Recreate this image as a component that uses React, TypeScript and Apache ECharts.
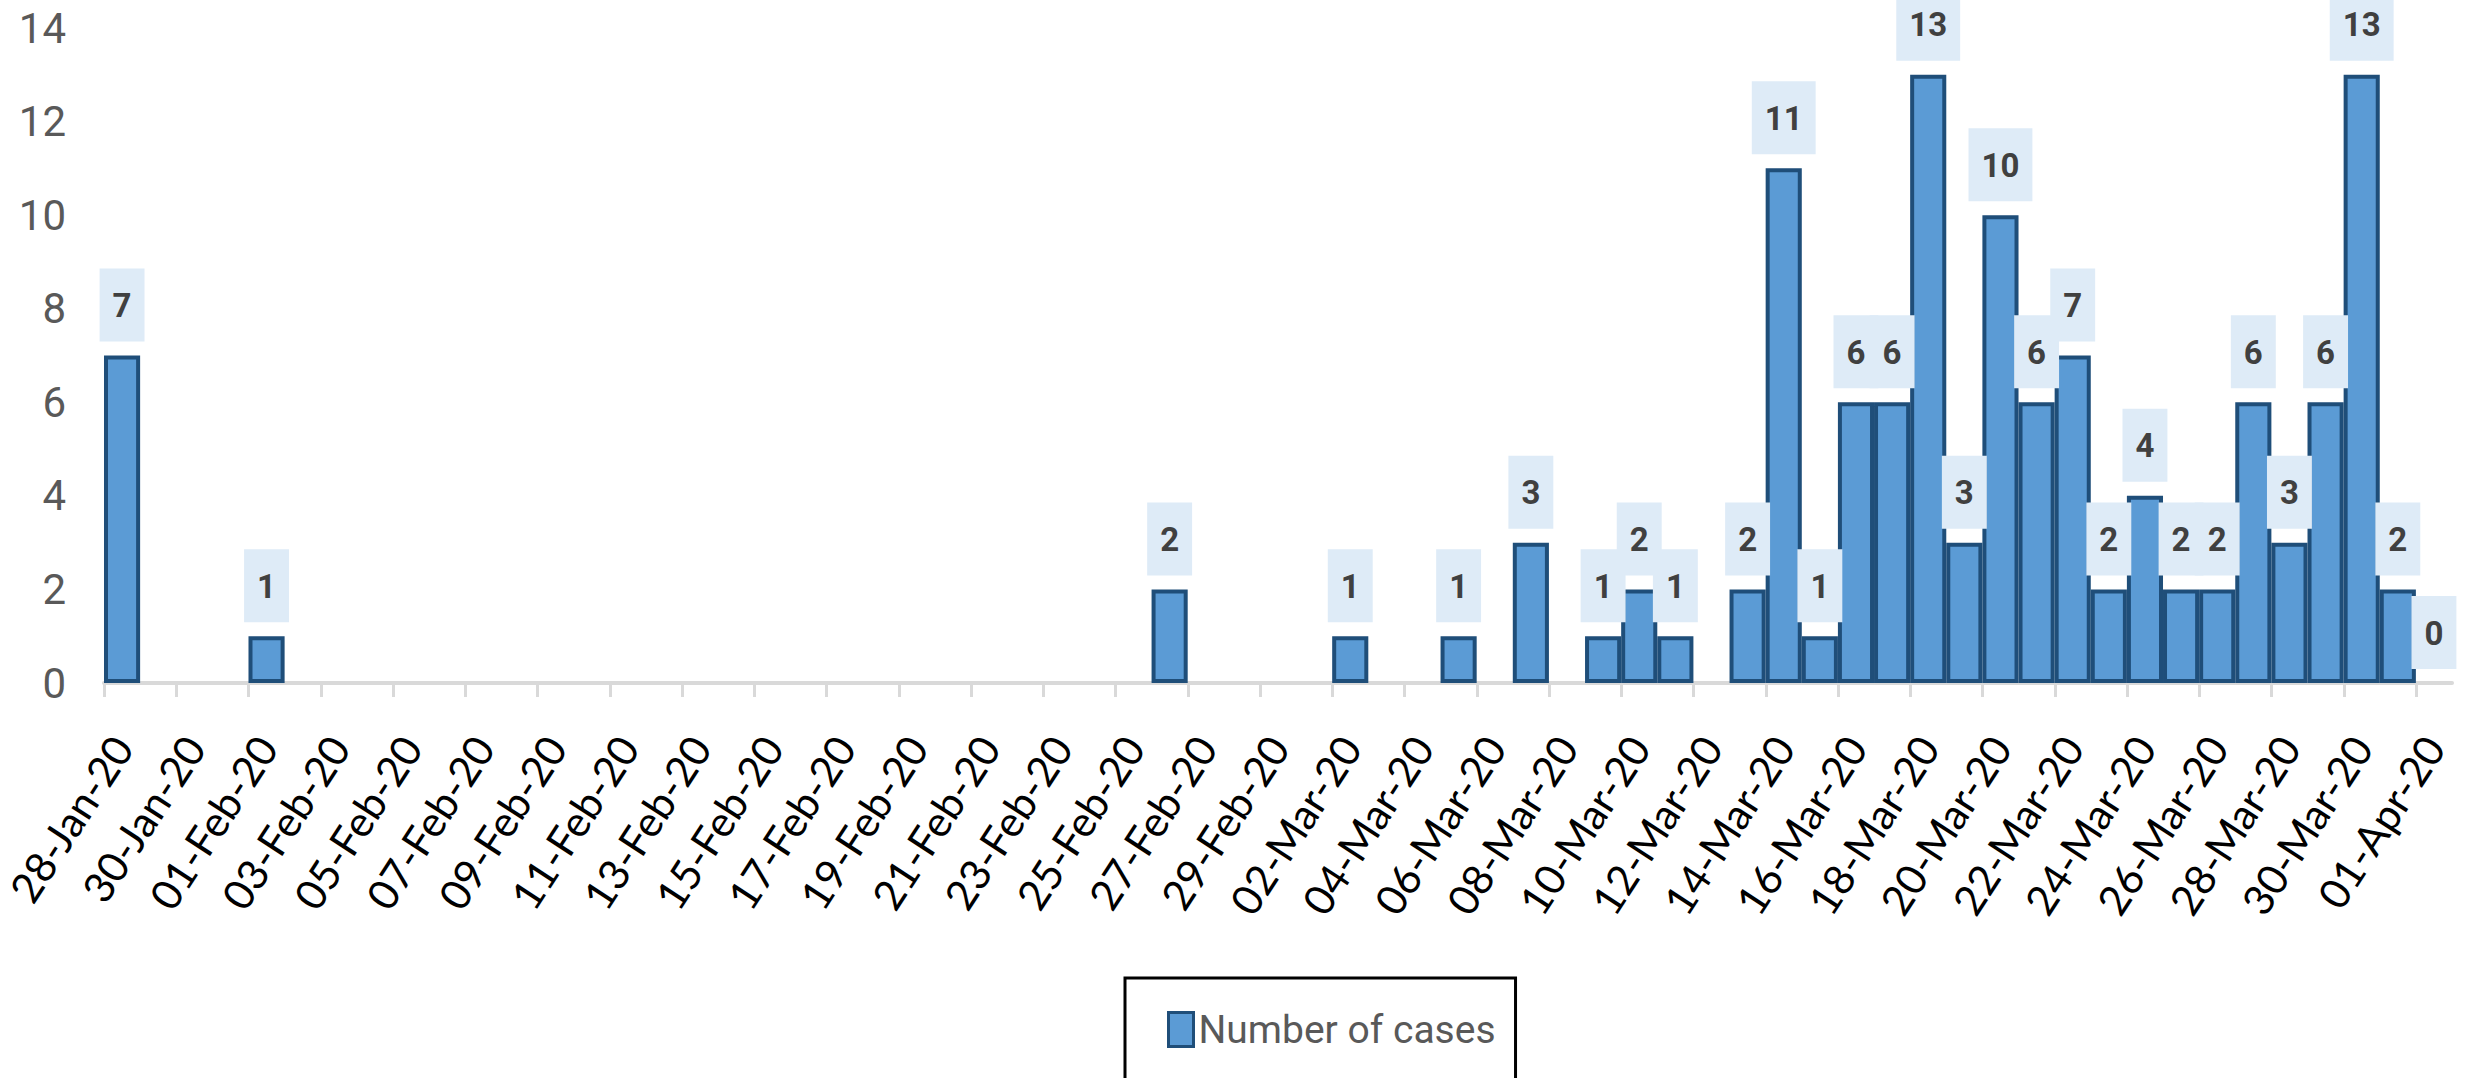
import React, { useEffect, useRef } from 'react';
import * as echarts from 'echarts';

// Daily categories (28-Jan-20 .. 01-Apr-20)
const dateLabels: string[] = [
  '28-Jan-20', '29-Jan-20', '30-Jan-20', '31-Jan-20',
  '01-Feb-20', '02-Feb-20', '03-Feb-20', '04-Feb-20', '05-Feb-20', '06-Feb-20', '07-Feb-20',
  '08-Feb-20', '09-Feb-20', '10-Feb-20', '11-Feb-20', '12-Feb-20', '13-Feb-20', '14-Feb-20',
  '15-Feb-20', '16-Feb-20', '17-Feb-20', '18-Feb-20', '19-Feb-20', '20-Feb-20', '21-Feb-20',
  '22-Feb-20', '23-Feb-20', '24-Feb-20', '25-Feb-20', '26-Feb-20', '27-Feb-20', '28-Feb-20',
  '29-Feb-20',
  '01-Mar-20', '02-Mar-20', '03-Mar-20', '04-Mar-20', '05-Mar-20', '06-Mar-20', '07-Mar-20',
  '08-Mar-20', '09-Mar-20', '10-Mar-20', '11-Mar-20', '12-Mar-20', '13-Mar-20', '14-Mar-20',
  '15-Mar-20', '16-Mar-20', '17-Mar-20', '18-Mar-20', '19-Mar-20', '20-Mar-20', '21-Mar-20',
  '22-Mar-20', '23-Mar-20', '24-Mar-20', '25-Mar-20', '26-Mar-20', '27-Mar-20', '28-Mar-20',
  '29-Mar-20', '30-Mar-20', '31-Mar-20',
  '01-Apr-20',
];

// Number of cases per day (null = no bar / no label)
const cases: (number | null)[] = [
  7, null, null, null,
  1, null, null, null, null, null, null,
  null, null, null, null, null, null, null,
  null, null, null, null, null, null, null,
  null, null, null, null, 2, null, null,
  null,
  null, 1, null, null, 1, null, 3,
  null, 1, 2, 1, null, 2, 11,
  1, 6, 6, 13, 3, 10, 6,
  7, 2, 4, 2, 2, 6, 3,
  6, 13, 2,
  0,
];

const yTicks = { min: 0, max: 14, step: 2 };
const seriesName = 'Number of cases';

const FONT_AXIS = "Roboto, 'Liberation Sans', sans-serif";
const FONT_DATES = "Lato, 'Open Sans', 'Noto Sans', sans-serif";

export default function App() {
  const ref = useRef<HTMLDivElement>(null);

  useEffect(() => {
    if (!ref.current) return;
    const chart = echarts.init(ref.current, null, { renderer: 'svg' });

    const barData = cases.map((v) =>
      v === 0 ? { value: 0, itemStyle: { borderWidth: 0 } } : v
    );

    chart.setOption({
      animation: false,
      backgroundColor: '#ffffff',
      grid: [
        { left: 104, right: 17, top: 28, bottom: 395, outerBoundsMode: 'none' },
        { left: 104, right: 53, top: 28, bottom: 395, outerBoundsMode: 'none' },
      ],
      xAxis: [
        {
          type: 'category',
          gridIndex: 0,
          data: dateLabels,
          boundaryGap: true,
          axisLine: { show: true, lineStyle: { color: '#d9d9d9', width: 4 } },
          axisTick: { show: false },
          splitLine: { show: false },
          axisLabel: {
            interval: 1,
            rotate: 57,
            margin: 57,
            color: '#000000',
            fontSize: 42,
            fontFamily: FONT_DATES,
          },
        },
        {
          type: 'value',
          gridIndex: 1,
          min: 0,
          max: dateLabels.length - 1,
          interval: 2,
          axisLine: { show: false },
          axisLabel: { show: false },
          splitLine: { show: false },
          axisTick: { show: true, length: 14, lineStyle: { color: '#d9d9d9', width: 3 } },
        },
      ],
      yAxis: [
        {
          type: 'value',
          gridIndex: 0,
          min: yTicks.min,
          max: yTicks.max,
          interval: yTicks.step,
          axisLine: { show: false },
          axisTick: { show: false },
          splitLine: { show: false },
          axisLabel: {
            margin: 38,
            color: '#595959',
            fontSize: 42,
            fontFamily: FONT_AXIS,
          },
        },
        { type: 'value', gridIndex: 1, min: 0, max: 1, show: false },
      ],
      legend: {
        data: [seriesName],
        left: 1125,
        top: 978,
        orient: 'horizontal',
        padding: [32, 20, 40, 42],
        borderColor: '#000000',
        borderWidth: 3,
        backgroundColor: '#ffffff',
        itemWidth: 25,
        itemHeight: 34,
        icon: 'rect',
        itemStyle: { color: '#5b9bd5', borderColor: '#1f4e79', borderWidth: 3 },
        textStyle: { color: '#595959', fontSize: 39, fontFamily: FONT_AXIS },
      },
      series: [
        {
          name: seriesName,
          type: 'bar',
          xAxisIndex: 0,
          yAxisIndex: 0,
          barCategoryGap: 0,
          data: barData,
          itemStyle: { color: '#5b9bd5', borderColor: '#1f4e79', borderWidth: 4 },
          label: {
            show: true,
            position: 'top',
            distance: 14,
            formatter: '{c}',
            color: '#404040',
            fontWeight: 'bold',
            fontSize: 33,
            lineHeight: 34,
            fontFamily: FONT_AXIS,
            backgroundColor: '#deebf7',
            padding: [20, 13, 19, 13],
          },
        },
      ],
    });

    return () => chart.dispose();
  }, []);

  return (
    <div
      ref={ref}
      style={{ position: 'fixed', left: 0, top: 0, width: 2469, height: 1078 }}
    />
  );
}
